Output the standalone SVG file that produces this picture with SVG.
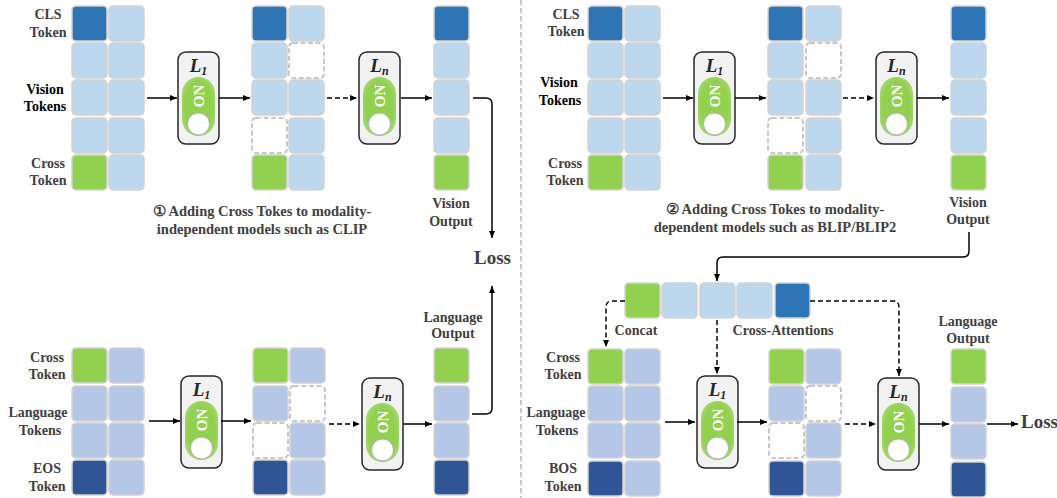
<svg xmlns="http://www.w3.org/2000/svg" width="1057" height="498" viewBox="0 0 1057 498">
<style>
  .c{stroke:#d2d2d2;stroke-width:1.5}
  .D{fill:#2e75b6}.L{fill:#bdd7ee}.G{fill:#92d050}.V{fill:#b4c7e7}.N{fill:#2f5597}
  .X{fill:#ffffff;stroke:#c8c8c8;stroke-width:2;stroke-dasharray:5 2.5}
  .t{font-family:"Liberation Serif","Times New Roman",serif;font-weight:bold;font-size:14px;fill:#404040;text-anchor:middle}
  .cap{font-size:14.5px}
  .k{fill:#000}
  .loss{font-family:"Liberation Serif","Times New Roman",serif;font-weight:bold;font-size:19px;fill:#404040}
  .ln{fill:none;stroke:#000;stroke-width:1.5}
  .dl{fill:none;stroke:#000;stroke-width:1.5;stroke-dasharray:5 3}
  .box{fill:#f2f2f2;stroke:#262626;stroke-width:1.5}
  .lab{font-family:"Liberation Serif","Times New Roman",serif;font-weight:bold;font-style:italic;font-size:19px;fill:#262626;text-anchor:middle}
  .on{font-family:"Liberation Serif","Times New Roman",serif;font-weight:bold;font-size:15px;fill:#fff;text-anchor:middle}
</style>
<defs>
  <marker id="ah" markerWidth="8" markerHeight="8" refX="7" refY="4" orient="auto" markerUnits="userSpaceOnUse">
    <path d="M0,1 L7,4 L0,7 Z" fill="#000"/>
  </marker>
  <radialGradient id="pg" cx="0.5" cy="0.5" r="0.6">
    <stop offset="0.7" stop-color="#92d050"/>
    <stop offset="1" stop-color="#a8dc78"/>
  </radialGradient>
  <g id="sw">
    <rect class="box" x="0" y="0" width="41" height="92" rx="8"/>
    <rect x="4" y="25" width="33" height="59" rx="16.5" fill="url(#pg)"/>
    <text class="on" transform="translate(25.5,44) rotate(-90)">ON</text>
    <circle cx="20.5" cy="72" r="11" fill="#fff" stroke="#b0b0b0" stroke-width="1"/>
  </g>
</defs>
<rect width="1057" height="498" fill="#fff"/>
<line x1="521" y1="0" x2="521" y2="498" stroke="#a6a6a6" stroke-width="1.2" stroke-dasharray="5 3"/>

<!-- Top-left panel -->
<g id="tl-input">
  <rect class="c D" x="72" y="6" width="35" height="35" rx="4"/>
  <rect class="c L" x="72" y="43" width="35" height="35" rx="4"/>
  <rect class="c L" x="72" y="80" width="35" height="35" rx="4"/>
  <rect class="c L" x="72" y="118" width="35" height="35" rx="4"/>
  <rect class="c G" x="72" y="155" width="35" height="35" rx="4"/>
  <rect class="c L" x="109" y="6" width="35" height="35" rx="4"/>
  <rect class="c L" x="109" y="43" width="35" height="35" rx="4"/>
  <rect class="c L" x="109" y="80" width="35" height="35" rx="4"/>
  <rect class="c L" x="109" y="118" width="35" height="35" rx="4"/>
  <rect class="c L" x="109" y="155" width="35" height="35" rx="4"/>
  <text class="t" x="48" y="19">CLS</text><text class="t" x="48" y="37">Token</text>
  <text class="t k" x="45" y="94">Vision</text><text class="t k" x="45" y="111">Tokens</text>
  <text class="t" x="48" y="168">Cross</text><text class="t" x="48" y="185">Token</text>
</g>
<g id="tl-L1" transform="translate(178,52)">
  <use href="#sw"/>
  <text class="lab" x="20.5" y="20">L<tspan font-size="12" dy="3">1</tspan></text>
</g>
<g id="tl-mid">
  <rect class="c D" x="252" y="6" width="35" height="35" rx="4"/>
  <rect class="c L" x="252" y="43" width="35" height="35" rx="4"/>
  <rect class="c L" x="252" y="80" width="35" height="35" rx="4"/>
  <rect class="X" x="252" y="118" width="35" height="35" rx="4"/>
  <rect class="c G" x="252" y="155" width="35" height="35" rx="4"/>
  <rect class="c L" x="289" y="6" width="35" height="35" rx="4"/>
  <rect class="X" x="289" y="43" width="35" height="35" rx="4"/>
  <rect class="c L" x="289" y="80" width="35" height="35" rx="4"/>
  <rect class="c L" x="289" y="118" width="35" height="35" rx="4"/>
  <rect class="c L" x="289" y="155" width="35" height="35" rx="4"/>
</g>
<g id="tl-Ln" transform="translate(359,52)">
  <use href="#sw"/>
  <text class="lab" x="20.5" y="20">L<tspan font-size="12" dy="3">n</tspan></text>
</g>
<g id="tl-out">
  <rect class="c D" x="434" y="6" width="35" height="35" rx="4"/>
  <rect class="c L" x="434" y="43" width="35" height="35" rx="4"/>
  <rect class="c L" x="434" y="80" width="35" height="35" rx="4"/>
  <rect class="c L" x="434" y="118" width="35" height="35" rx="4"/>
  <rect class="c G" x="434" y="155" width="35" height="35" rx="4"/>
  <text class="t" x="451" y="208">Vision</text><text class="t" x="451" y="226">Output</text>
</g>
<g id="tl-caption">
  <text class="t cap" x="262" y="216">① Adding Cross Tokes to modality-</text>
  <text class="t cap" x="262" y="234">independent models such as CLIP</text>
</g>
<g id="loss-left"><text class="loss" x="474" y="264">Loss</text></g>

<!-- Bottom-left panel -->
<g id="bl-input">
  <rect class="c G" x="72" y="348" width="35" height="35" rx="4"/>
  <rect class="c V" x="72" y="386" width="35" height="35" rx="4"/>
  <rect class="c V" x="72" y="423" width="35" height="35" rx="4"/>
  <rect class="c N" x="72" y="460" width="35" height="35" rx="4"/>
  <rect class="c V" x="109" y="348" width="35" height="35" rx="4"/>
  <rect class="c V" x="109" y="386" width="35" height="35" rx="4"/>
  <rect class="c V" x="109" y="423" width="35" height="35" rx="4"/>
  <rect class="c V" x="109" y="460" width="35" height="35" rx="4"/>
  <text class="t" x="47" y="362">Cross</text><text class="t" x="47" y="379">Token</text>
  <text class="t" x="38" y="417">Language</text><text class="t" x="40" y="435">Tokens</text>
  <text class="t" x="47" y="473">EOS</text><text class="t" x="47" y="491">Token</text>
</g>
<g id="bl-L1" transform="translate(181,376)">
  <use href="#sw"/>
  <text class="lab" x="20.5" y="20">L<tspan font-size="12" dy="3">1</tspan></text>
</g>
<g id="bl-mid">
  <rect class="c G" x="253" y="348" width="35" height="35" rx="4"/>
  <rect class="c V" x="253" y="386" width="35" height="35" rx="4"/>
  <rect class="X" x="253" y="423" width="35" height="35" rx="4"/>
  <rect class="c N" x="253" y="460" width="35" height="35" rx="4"/>
  <rect class="c V" x="290" y="348" width="35" height="35" rx="4"/>
  <rect class="X" x="290" y="386" width="35" height="35" rx="4"/>
  <rect class="c V" x="290" y="423" width="35" height="35" rx="4"/>
  <rect class="c V" x="290" y="460" width="35" height="35" rx="4"/>
</g>
<g id="bl-Ln" transform="translate(362,378)">
  <use href="#sw"/>
  <text class="lab" x="20.5" y="20">L<tspan font-size="12" dy="3">n</tspan></text>
</g>
<g id="bl-out">
  <rect class="c G" x="434" y="348" width="35" height="35" rx="4"/>
  <rect class="c V" x="434" y="386" width="35" height="35" rx="4"/>
  <rect class="c V" x="434" y="423" width="35" height="35" rx="4"/>
  <rect class="c N" x="434" y="460" width="35" height="35" rx="4"/>
  <text class="t" x="453" y="322">Language</text><text class="t" x="453" y="338">Output</text>
</g>

<!-- Top-right panel -->
<g id="tr-input">
  <rect class="c D" x="588" y="6" width="35" height="35" rx="4"/>
  <rect class="c L" x="588" y="43" width="35" height="35" rx="4"/>
  <rect class="c L" x="588" y="80" width="35" height="35" rx="4"/>
  <rect class="c L" x="588" y="118" width="35" height="35" rx="4"/>
  <rect class="c G" x="588" y="155" width="35" height="35" rx="4"/>
  <rect class="c L" x="625" y="6" width="35" height="35" rx="4"/>
  <rect class="c L" x="625" y="43" width="35" height="35" rx="4"/>
  <rect class="c L" x="625" y="80" width="35" height="35" rx="4"/>
  <rect class="c L" x="625" y="118" width="35" height="35" rx="4"/>
  <rect class="c L" x="625" y="155" width="35" height="35" rx="4"/>
  <text class="t" x="566" y="19">CLS</text><text class="t" x="566" y="36">Token</text>
  <text class="t k" x="559" y="87">Vision</text><text class="t k" x="560" y="105">Tokens</text>
  <text class="t" x="565" y="168">Cross</text><text class="t" x="565" y="185">Token</text>
</g>
<g id="tr-L1" transform="translate(694,52)">
  <use href="#sw"/>
  <text class="lab" x="20.5" y="20">L<tspan font-size="12" dy="3">1</tspan></text>
</g>
<g id="tr-mid">
  <rect class="c D" x="768" y="6" width="35" height="35" rx="4"/>
  <rect class="c L" x="768" y="43" width="35" height="35" rx="4"/>
  <rect class="c L" x="768" y="80" width="35" height="35" rx="4"/>
  <rect class="X" x="768" y="118" width="35" height="35" rx="4"/>
  <rect class="c G" x="768" y="155" width="35" height="35" rx="4"/>
  <rect class="c L" x="806" y="6" width="35" height="35" rx="4"/>
  <rect class="X" x="806" y="43" width="35" height="35" rx="4"/>
  <rect class="c L" x="806" y="80" width="35" height="35" rx="4"/>
  <rect class="c L" x="806" y="118" width="35" height="35" rx="4"/>
  <rect class="c L" x="806" y="155" width="35" height="35" rx="4"/>
</g>
<g id="tr-Ln" transform="translate(876,52)">
  <use href="#sw"/>
  <text class="lab" x="20.5" y="20">L<tspan font-size="12" dy="3">n</tspan></text>
</g>
<g id="tr-out">
  <rect class="c D" x="951" y="6" width="35" height="35" rx="4"/>
  <rect class="c L" x="951" y="43" width="35" height="35" rx="4"/>
  <rect class="c L" x="951" y="80" width="35" height="35" rx="4"/>
  <rect class="c L" x="951" y="118" width="35" height="35" rx="4"/>
  <rect class="c G" x="951" y="155" width="35" height="35" rx="4"/>
  <text class="t" x="968" y="207">Vision</text><text class="t" x="968" y="224">Output</text>
</g>
<g id="tr-caption">
  <text class="t cap" x="775" y="214">② Adding Cross Tokes to modality-</text>
  <text class="t cap" x="775" y="232">dependent models such as BLIP/BLIP2</text>
</g>

<!-- Sequence -->
<g id="seq">
  <rect class="c G" x="625" y="283" width="35" height="35" rx="4"/>
  <rect class="c L" x="662" y="283" width="35" height="35" rx="4"/>
  <rect class="c L" x="700" y="283" width="35" height="35" rx="4"/>
  <rect class="c L" x="737" y="283" width="35" height="35" rx="4"/>
  <rect class="c D" x="775" y="283" width="35" height="35" rx="4"/>
  <text class="t" x="636" y="335">Concat</text>
  <text class="t" x="783" y="335">Cross-Attentions</text>
</g>

<!-- Bottom-right panel -->
<g id="br-input">
  <rect class="c G" x="588" y="349" width="35" height="35" rx="4"/>
  <rect class="c V" x="588" y="386" width="35" height="35" rx="4"/>
  <rect class="c V" x="588" y="423" width="35" height="35" rx="4"/>
  <rect class="c N" x="588" y="461" width="35" height="35" rx="4"/>
  <rect class="c V" x="625" y="349" width="35" height="35" rx="4"/>
  <rect class="c V" x="625" y="386" width="35" height="35" rx="4"/>
  <rect class="c V" x="625" y="423" width="35" height="35" rx="4"/>
  <rect class="c V" x="625" y="461" width="35" height="35" rx="4"/>
  <text class="t" x="563" y="362">Cross</text><text class="t" x="563" y="379">Token</text>
  <text class="t" x="556" y="417">Language</text><text class="t" x="557" y="435">Tokens</text>
  <text class="t" x="563" y="473">BOS</text><text class="t" x="563" y="491">Token</text>
</g>
<g id="br-L1" transform="translate(697,376)">
  <use href="#sw"/>
  <text class="lab" x="20.5" y="20">L<tspan font-size="12" dy="3">1</tspan></text>
</g>
<g id="br-mid">
  <rect class="c G" x="769" y="349" width="35" height="35" rx="4"/>
  <rect class="c V" x="769" y="386" width="35" height="35" rx="4"/>
  <rect class="X" x="769" y="423" width="35" height="35" rx="4"/>
  <rect class="c N" x="769" y="461" width="35" height="35" rx="4"/>
  <rect class="c V" x="806" y="349" width="35" height="35" rx="4"/>
  <rect class="X" x="806" y="386" width="35" height="35" rx="4"/>
  <rect class="c V" x="806" y="423" width="35" height="35" rx="4"/>
  <rect class="c V" x="806" y="461" width="35" height="35" rx="4"/>
</g>
<g id="br-Ln" transform="translate(878,378)">
  <use href="#sw"/>
  <text class="lab" x="20.5" y="20">L<tspan font-size="12" dy="3">n</tspan></text>
</g>
<g id="br-out">
  <rect class="c G" x="951" y="349" width="35" height="35" rx="4"/>
  <rect class="c V" x="951" y="387" width="35" height="35" rx="4"/>
  <rect class="c V" x="951" y="424" width="35" height="35" rx="4"/>
  <rect class="c N" x="951" y="462" width="35" height="35" rx="4"/>
  <text class="t" x="968" y="326">Language</text><text class="t" x="968" y="343">Output</text>
</g>
<g id="loss-right"><text class="loss" x="1021" y="428">Loss</text></g>

<!-- Connectors -->
<g id="connectors">
  <line class="ln" x1="147" y1="98" x2="177" y2="98" marker-end="url(#ah)"/>
  <line class="ln" x1="219" y1="98" x2="250" y2="98" marker-end="url(#ah)"/>
  <line class="dl" x1="327" y1="98" x2="357" y2="98" marker-end="url(#ah)"/>
  <line class="ln" x1="401" y1="98" x2="432" y2="98" marker-end="url(#ah)"/>
  <path class="ln" d="M473,98 H486 Q492,98 492,104 V238" marker-end="url(#ah)"/>

  <line class="ln" x1="149" y1="421" x2="180" y2="421" marker-end="url(#ah)"/>
  <line class="ln" x1="221" y1="421" x2="251" y2="421" marker-end="url(#ah)"/>
  <line class="dl" x1="329" y1="424" x2="360" y2="424" marker-end="url(#ah)"/>
  <line class="ln" x1="403" y1="424" x2="432" y2="424" marker-end="url(#ah)"/>
  <path class="ln" d="M472,414 H486 Q492,414 492,408 V286" marker-end="url(#ah)"/>

  <line class="ln" x1="663" y1="98" x2="693" y2="98" marker-end="url(#ah)"/>
  <line class="ln" x1="735" y1="98" x2="766" y2="98" marker-end="url(#ah)"/>
  <line class="dl" x1="843" y1="98" x2="874" y2="98" marker-end="url(#ah)"/>
  <line class="ln" x1="917" y1="98" x2="949" y2="98" marker-end="url(#ah)"/>

  <path class="ln" d="M969,232 V251 Q969,257 963,257 H723 Q717,257 717,263 V281" marker-end="url(#ah)"/>
  <path class="dl" d="M625,301 H612 Q606,301 606,307 V347" marker-end="url(#ah)"/>
  <line class="dl" x1="717" y1="320" x2="717" y2="374" marker-end="url(#ah)"/>
  <path class="dl" d="M810,301 H893 Q899,301 899,307 V376" marker-end="url(#ah)"/>

  <line class="ln" x1="665" y1="422" x2="695" y2="422" marker-end="url(#ah)"/>
  <line class="ln" x1="737" y1="422" x2="767" y2="422" marker-end="url(#ah)"/>
  <line class="dl" x1="845" y1="424" x2="876" y2="424" marker-end="url(#ah)"/>
  <line class="ln" x1="919" y1="424" x2="949" y2="424" marker-end="url(#ah)"/>
  <line class="ln" x1="987" y1="424" x2="1018" y2="424" marker-end="url(#ah)"/>
</g>
</svg>
